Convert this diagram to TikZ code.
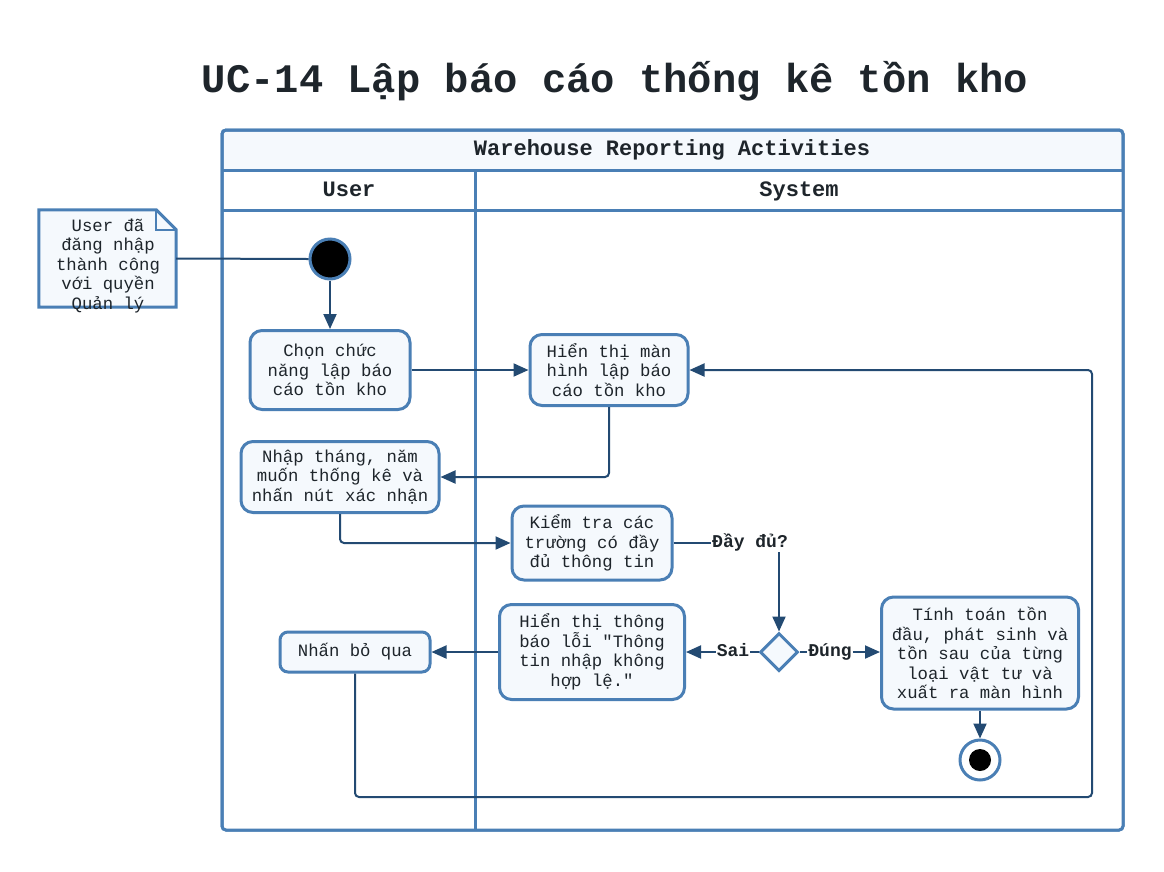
\documentclass[tikz,border=0pt]{standalone}
\usepackage{fontspec}
\setmainfont{Liberation Mono}
\usetikzlibrary{arrows.meta,positioning,shapes.geometric,calc}
\definecolor{laneblue}{HTML}{4A7FB5}
\definecolor{linkblue}{HTML}{234A72}
\definecolor{boxfill}{HTML}{F5F9FD}
\definecolor{inkdark}{HTML}{1E252B}

\begin{document}
\begin{tikzpicture}[x=1pt,y=-1pt,>={Triangle[length=15pt,width=13pt]},
  every node/.style={text=inkdark},
  act node/.style={draw=laneblue,fill=boxfill,line width=3pt,rounded corners=12pt,align=center,font=\fontsize{17.3}{19.5}\selectfont,inner sep=4pt},
  guard/.style={font=\fontsize{18}{20}\selectfont\bfseries,inner sep=1pt,text height=12pt,text depth=4pt},
  lane head/.style={font=\fontsize{22}{24}\selectfont\bfseries,text height=14pt,text depth=4pt},
  flow/.style={draw=linkblue,line width=2pt}]
\useasboundingbox (0,0) rectangle (1164,871);
% title
\node[font=\fontsize{40.5}{44}\selectfont\bfseries] (title) at (615,81) {UC-14 Lập báo cáo thống kê tồn kho};
% swimlanes
\draw[draw=laneblue,fill=boxfill,line width=3pt,rounded corners=4pt] (222,130) rectangle (1123,830);
\fill[white] (223.5,171.5) rectangle (1121.5,828.5);
\draw[draw=laneblue,line width=3pt,rounded corners=4pt] (222,130) rectangle (1123,830);
\draw[draw=laneblue,line width=3pt] (222,170) -- (1123,170) (222,210) -- (1123,210) (475,170) -- (475,830);
\node[lane head] (pool) at (672,150) {Warehouse Reporting Activities};
\node[lane head] (laneU) at (349,191) {User};
\node[lane head] (laneS) at (799,191) {System};
% note
\node[minimum width=137pt,minimum height=97pt,inner sep=0pt] (note) at (107.5,258.5) {};
\draw[draw=laneblue,fill=boxfill,line width=3pt] (note.north west) -- ($(note.north east)+(-20,0)$) -- ($(note.north east)+(0,20)$) -- (note.south east) -- (note.south west) -- cycle;
\draw[draw=laneblue,line width=2pt] ($(note.north east)+(-20,0)$) -- ($(note.north east)+(-20,20)$) -- ($(note.north east)+(0,20)$);
\node[align=center,font=\fontsize{17.3}{19.5}\selectfont] (notetext) at (108,266) {User đã\\đăng nhập\\thành công\\với quyền\\Quản lý};
% nodes
\node[circle,draw=laneblue,fill=black,line width=3pt,minimum size=40pt,inner sep=0pt] (start) at (330,259) {};
\node[act node,minimum width=160pt,minimum height=79pt] (choose) at (330,370) {Chọn chức\\năng lập báo\\cáo tồn kho};
\node[act node,minimum width=158pt,minimum height=71pt] (form) at (609,370) {Hiển thị màn\\hình lập báo\\cáo tồn kho};
\node[act node,minimum width=198pt,minimum height=71pt] (input) at (340,477) {Nhập tháng, năm\\muốn thống kê và\\nhấn nút xác nhận};
\node[act node,minimum width=160pt,minimum height=74pt] (check) at (592,543) {Kiểm tra các\\trường có đầy\\đủ thông tin};
\node[guard] (full) at (750,543) {Đầy đủ?};
\node[diamond,draw=laneblue,fill=boxfill,line width=3pt,minimum size=38pt,inner sep=0pt] (dec) at (779,652) {};
\node[guard] (sai) at (733,652) {Sai};
\node[guard] (dung) at (830,652) {Đúng};
\node[act node,minimum width=185pt,minimum height=95pt] (err) at (592,652) {Hiển thị thông\\báo lỗi \textquotedbl Thông\\tin nhập không\\hợp lệ.\textquotedbl};
\node[act node,minimum width=197pt,minimum height=112pt] (calc) at (980,653) {Tính toán tồn\\đầu, phát sinh và\\tồn sau của từng\\loại vật tư và\\xuất ra màn hình};
\node[act node,rounded corners=8pt,minimum width=150pt,minimum height=40pt] (skip) at (355,652) {Nhấn bỏ qua};
\node[circle,draw=laneblue,fill=white,line width=3pt,minimum size=40pt,inner sep=0pt] (stop) at (980,760) {};
\node[circle,fill=black,minimum size=22pt,inner sep=0pt] (stopdot) at (980,760) {};
% connectors
\draw[flow] (note.east) -- (start.west);
\draw[flow,->] (start) -- (choose);
\draw[flow,->] (choose) -- (form);
\draw[flow,->,rounded corners=4pt] (form.south) |- (input.east);
\draw[flow,->,rounded corners=4pt] (input.south) |- (check.west);
\draw[flow] (check.east) -- (full.west |- check.east);
\draw[flow,->] (full.south -| dec.north) -- (dec.north);
\draw[flow] (dec.west) -- (sai.east |- dec.west);
\draw[flow,->] (sai.west |- dec.west) -- (err.east |- dec.west);
\draw[flow] (dec.east) -- (dung.west |- dec.east);
\draw[flow,->] (dung.east |- dec.east) -- (calc.west |- dec.east);
\draw[flow,->] (err.west) -- (skip.east);
\draw[flow,->] (calc.south) -- (stop.north);
\draw[flow,->,rounded corners=4pt] (skip.south) -- (355,797) -- (1092,797) -- (1092,370) -- (form.east);
\end{tikzpicture}
\end{document}
